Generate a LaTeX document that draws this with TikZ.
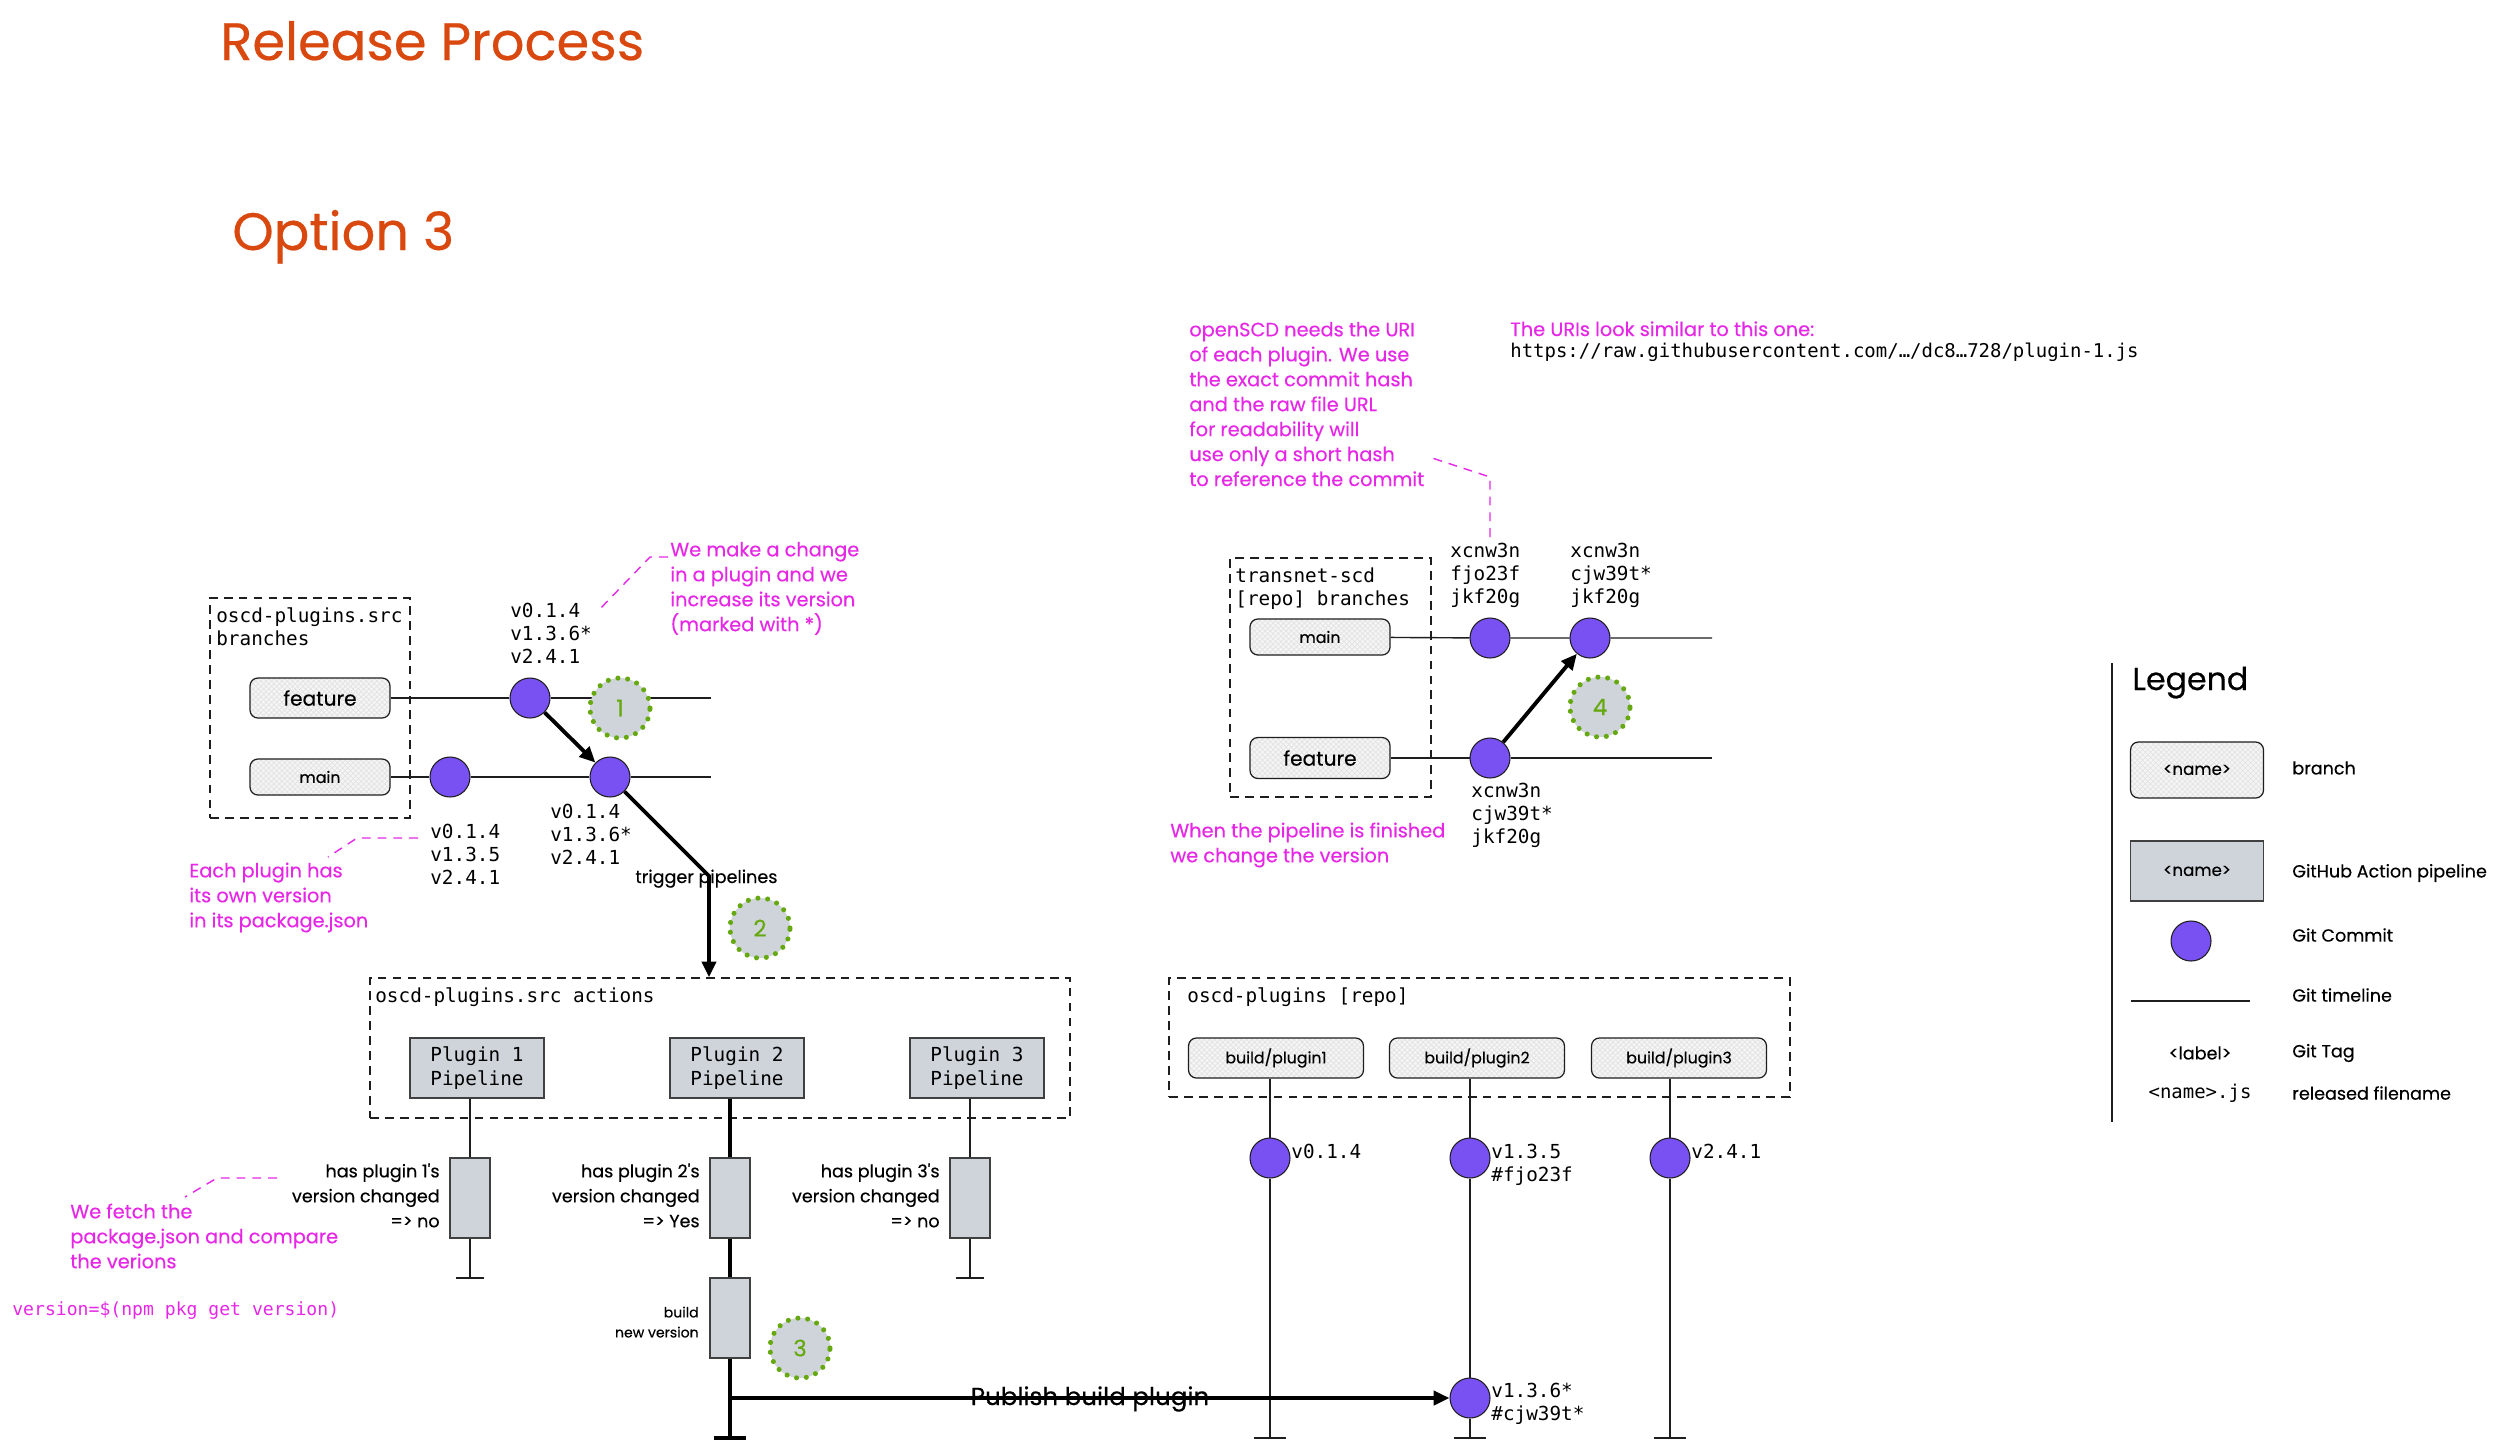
\documentclass[tikz,border=0pt]{standalone}
\usepackage{fontspec}
\usetikzlibrary{arrows.meta,patterns,calc}
\newfontfamily\hnd{Poppins}[FakeBold=0.35]
\newfontfamily\cde{DejaVu Sans Mono}
\newcommand\fsz[2]{\fontsize{#1}{#2}\selectfont}
\definecolor{ink}{HTML}{1E1E1E}
\definecolor{accent}{HTML}{D9480F}
\definecolor{mag}{HTML}{E628E6}
\definecolor{commitfill}{HTML}{7950F2}
\definecolor{boxgray}{HTML}{CED4DA}
\definecolor{stepgreen}{HTML}{66A80F}

\tikzset{
  title/.style={font=\hnd\fsz{30pt}{34pt}, text=accent, inner sep=0pt},
  groupbox/.style={draw=ink, line width=0.8pt, dash pattern=on 5pt off 3.5pt, inner sep=0pt},
  branchbox/.style={draw=ink, line width=0.7pt, rounded corners=4.5pt,
    minimum width=2.8cm, minimum height=0.76cm, inner sep=0pt,
    font=\hnd\fsz{11.5pt}{13pt},
    preaction={fill=black!4},
    preaction={pattern=north east lines, pattern color=black!11},
    pattern=north west lines, pattern color=black!11},
  pipebox/.style={draw=ink!85, fill=boxgray, line width=0.8pt, minimum width=2.68cm,
    minimum height=1.2cm, inner sep=0pt, align=center, font=\cde\fsz{11pt}{13.7pt}},
  chkbox/.style={draw=ink!85, fill=boxgray, line width=0.8pt, minimum width=0.8cm,
    minimum height=1.6cm, inner sep=0pt},
  commit/.style={circle, draw=ink, fill=commitfill, line width=0.6pt, minimum size=0.8cm, inner sep=0pt},
  stepmark/.style={circle, minimum size=1.2cm, inner sep=0pt, fill=boxgray, draw=stepgreen,
    line width=2.9pt, dash pattern=on 0pt off 5.6pt, line cap=round,
    text=stepgreen, font=\hnd\fsz{13pt}{15pt}},
  tagtext/.style={font=\cde\fsz{11pt}{13.1pt}, align=left, anchor=north west, inner sep=0pt},
  notetext/.style={font=\hnd\fsz{11pt}{14.2pt}, text=mag, align=left, anchor=north west, inner sep=0pt},
  chklabel/.style={font=\hnd\fsz{10pt}{14.2pt}, align=right, anchor=north east, inner sep=0pt},
  legtext/.style={font=\hnd\fsz{10pt}{12pt}, anchor=west, inner sep=0pt},
  timeline/.style={draw=ink, line width=0.8pt},
  heavyline/.style={draw=black, line width=2.2pt},
  bigarrow/.style={draw=black, line width=2.2pt, -{Triangle[length=9pt,width=8pt]}},
  leader/.style={draw=mag, line width=0.8pt, dash pattern=on 5pt off 4pt},
}

\begin{document}
\begin{tikzpicture}[x=0.02cm, y=-0.02cm]
\useasboundingbox (0,0) rectangle (2510,1448);
\fill[white] (0,0) rectangle (2510,1448);

% ---------- headings
\node[title, anchor=base west] (ttl) at (220,60) {Release Process};
\node[title, anchor=base west] (opt) at (232,250) {Option 3};

% ---------- oscd-plugins.src branches
\node[groupbox, minimum width=4cm, minimum height=4.4cm] (srcbr) at (310,708) {};
\node[tagtext] (srcbrlbl) at (216,606) {\strut oscd-plugins.src\\branches};
\node[branchbox, minimum height=0.8cm] (featL) at (320,698) {feature};
\node[branchbox, font=\hnd\fsz{9pt}{11pt}, minimum height=0.72cm] (mainL) at (320,777) {main};
\node[commit] (cA) at (530,698) {};
\node[commit] (cB) at (450,777) {};
\node[commit] (cC) at (610,777) {};
\coordinate (featLend) at (711,698);
\coordinate (mainLend) at (711,777);
\draw[timeline] (featL) -- (cA) -- (featLend);
\draw[timeline] (mainL) -- (cB) -- (cC) -- (mainLend);
\draw[bigarrow] (cA) -- (cC);

\node[tagtext] (tagA) at (510,601) {\strut v0.1.4\\v1.3.6*\\v2.4.1};
\node[tagtext] (tagC) at (550,802) {\strut v0.1.4\\v1.3.6*\\v2.4.1};
\node[tagtext] (tagB) at (430,822) {\strut v0.1.4\\v1.3.5\\v2.4.1};

\node[notetext] (noteA) at (670,538.5) {\strut We make a change\\in a plugin and we\\increase its version\\(marked with *)};
\coordinate (ldA1) at (668,557);
\coordinate (ldA2) at (650,557);
\coordinate (ldA3) at (597,612);
\draw[leader] (ldA1) -- (ldA2) -- (ldA3);

\node[notetext] (noteB) at (189,859.5) {\strut Each plugin has\\its own version\\in its package.json};
\coordinate (ldB1) at (418,838);
\coordinate (ldB2) at (357,838);
\coordinate (ldB3) at (328,857);
\draw[leader] (ldB1) -- (ldB2) -- (ldB3);

\node[stepmark] (s1) at (620,708) {1};

% ---------- oscd-plugins.src actions
\node[groupbox, minimum width=14cm, minimum height=2.8cm] (actions) at (720,1048) {};
\node[tagtext] (actionslbl) at (375,986) {\strut oscd-plugins.src actions};
\node[pipebox] (p1) at (477,1068) {Plugin 1\\Pipeline};
\node[pipebox] (p2) at (737,1068) {Plugin 2\\Pipeline};
\node[pipebox] (p3) at (977,1068) {Plugin 3\\Pipeline};

\coordinate (trigbend) at (709,876);
\draw[bigarrow] (cC) -- (trigbend) -- (trigbend |- actions.north);
\node[font=\hnd\fsz{10pt}{12pt}, anchor=base west, inner sep=0pt] (trig) at (635,883) {trigger pipelines};
\node[stepmark] (s2) at (760,928) {2};

\node[chkbox] (chk1) at (470,1198) {};
\node[chkbox] (chk2) at (730,1198) {};
\node[chkbox] (chk3) at (970,1198) {};
\node[chkbox] (bld) at (730,1318) {};
\coordinate (end1) at (470,1278);
\coordinate (end2) at (730,1438);
\coordinate (end3) at (970,1278);

\draw[timeline] (chk1 |- p1.south) -- (chk1) -- (end1);
\draw[timeline] (chk3 |- p3.south) -- (chk3) -- (end3);
\draw[heavyline] (chk2 |- p2.south) -- (chk2) -- (bld) -- (end2);
\draw[timeline] ($(end1)+(-14,0)$) -- ($(end1)+(14,0)$);
\draw[timeline] ($(end3)+(-14,0)$) -- ($(end3)+(14,0)$);
\draw[heavyline] ($(end2)+(-16,0)$) -- ($(end2)+(16,0)$);

\node[chklabel] (chk1lbl) at (440,1159.5) {\strut has plugin 1's\\version changed\\=> no};
\node[chklabel] (chk2lbl) at (700,1159.5) {\strut has plugin 2's\\version changed\\=> Yes};
\node[chklabel] (chk3lbl) at (940,1159.5) {\strut has plugin 3's\\version changed\\=> no};
\node[chklabel, font=\hnd\fsz{8pt}{11.4pt}] (bldlbl) at (699,1303) {\strut build\\new version};
\node[stepmark] (s3) at (800,1348) {3};

\node[notetext] (noteC) at (70,1200.5) {\strut We fetch the\\package.json and compare\\the verions};
\coordinate (ldC1) at (277,1178);
\coordinate (ldC2) at (217,1178);
\coordinate (ldC3) at (185,1197);
\draw[leader] (ldC1) -- (ldC2) -- (ldC3);
\node[font=\cde\fsz{10.3pt}{12pt}, text=mag, anchor=base west, inner sep=0pt] (npmcmd) at (12,1315) {version=\$(npm pkg get version)};

% ---------- oscd-plugins [repo]
\node[groupbox, minimum width=12.42cm, minimum height=2.38cm] (repo) at (1479.5,1037.5) {};
\node[tagtext] (repolbl) at (1187,986) {\strut oscd-plugins [repo]};
\node[branchbox, minimum width=3.5cm, minimum height=0.8cm, font=\hnd\fsz{9pt}{11pt}] (bp1) at (1276,1058) {build/plugin1};
\node[branchbox, minimum width=3.5cm, minimum height=0.8cm, font=\hnd\fsz{9pt}{11pt}] (bp2) at (1477,1058) {build/plugin2};
\node[branchbox, minimum width=3.5cm, minimum height=0.8cm, font=\hnd\fsz{9pt}{11pt}] (bp3) at (1679,1058) {build/plugin3};
\node[commit] (r1) at (1270,1158) {};
\node[commit] (r2) at (1470,1158) {};
\node[commit] (r3) at (1670,1158) {};
\node[commit] (c6) at (1470,1398) {};
\coordinate (e1) at (1270,1438);
\coordinate (e2) at (1470,1438);
\coordinate (e3) at (1670,1438);
\draw[timeline] (r1 |- bp1.south) -- (r1) -- (e1);
\draw[timeline] (r2 |- bp2.south) -- (r2) -- (c6) -- (e2);
\draw[timeline] (r3 |- bp3.south) -- (r3) -- (e3);
\draw[timeline] ($(e1)+(-16,0)$) -- ($(e1)+(16,0)$);
\draw[timeline] ($(e2)+(-16,0)$) -- ($(e2)+(16,0)$);
\draw[timeline] ($(e3)+(-16,0)$) -- ($(e3)+(16,0)$);
\node[tagtext] (r1tag) at (1291,1142) {\strut v0.1.4};
\node[tagtext] (r2tag) at (1491,1142) {\strut v1.3.5\\\#fjo23f};
\node[tagtext] (r3tag) at (1691,1142) {\strut v2.4.1};
\node[tagtext] (c6tag) at (1491,1381) {\strut v1.3.6*\\\#cjw39t*};

\coordinate (pubsrc) at (730,1398);
\draw[bigarrow] (pubsrc) -- (c6);
\node[font=\hnd\fsz{14pt}{16pt}, anchor=base, inner sep=0pt] (pubtxt) at (1090,1405) {Publish build plugin};

% ---------- transnet-scd [repo] branches
\node[groupbox, minimum width=4.02cm, minimum height=4.78cm] (tnbr) at (1330.5,677.5) {};
\node[tagtext] (tnbrlbl) at (1235,566) {\strut transnet-scd\\{}[repo] branches};
\node[branchbox, font=\hnd\fsz{9pt}{11pt}, minimum height=0.72cm] (mainR) at (1320,637) {main};
\node[branchbox, minimum height=0.82cm] (featR) at (1320,758) {feature};
\node[commit] (t1) at (1490,638) {};
\node[commit] (t2) at (1590,638) {};
\node[commit] (t3) at (1490,758) {};
\coordinate (mainRend) at (1712,638);
\coordinate (featRend) at (1712,758);
\draw[timeline] (mainR) -- (t1) -- (t2) -- (mainRend);
\draw[timeline] (featR) -- (t3) -- (featRend);
\draw[bigarrow] (t3) -- (t2);
\node[stepmark] (s4) at (1600,707) {4};

\node[tagtext] (t1tag) at (1450,541) {\strut xcnw3n\\fjo23f\\jkf20g};
\node[tagtext] (t2tag) at (1570,541) {\strut xcnw3n\\cjw39t*\\jkf20g};
\node[tagtext] (t3tag) at (1471,781) {\strut xcnw3n\\cjw39t*\\jkf20g};

\node[notetext] (noteD) at (1189,318.5) {\strut openSCD needs the URI\\of each plugin. We use\\the exact commit hash\\and the raw file URL\\for readability will\\use only a short hash\\to reference the commit};
\coordinate (ldD1) at (1490,537);
\coordinate (ldD2) at (1490,477);
\coordinate (ldD3) at (1429,457);
\draw[leader] (ldD1) -- (ldD2) -- (ldD3);

\node[font=\hnd\fsz{11pt}{13pt}, text=mag, anchor=base west, inner sep=0pt] (urinote) at (1510,336) {The URIs look similar to this one:};
\node[font=\cde\fsz{10.8pt}{12pt}, anchor=base west, inner sep=0pt] (uri) at (1510,357) {https://raw.githubusercontent.com/…/dc8…728/plugin-1.js};

\node[notetext] (noteE) at (1170,819.5) {\strut When the pipeline is finished\\we change the version};

% ---------- legend
\draw[ink, line width=0.8pt] (2112,663) -- (2112,1122);
\node[font=\hnd\fsz{18pt}{20pt}, anchor=base west, inner sep=0pt] (leg) at (2132,690) {Legend};
\node[branchbox, minimum width=2.66cm, minimum height=1.12cm, font=\hnd\fsz{9.5pt}{11pt}] (lgbranch) at (2197,770) {<name>};
\node[legtext] (lgbranchtxt) at (2292,768) {branch};
\node[pipebox, minimum width=2.66cm, font=\hnd\fsz{9.5pt}{11pt}] (lgpipe) at (2197,871) {<name>};
\node[legtext] (lgpipetxt) at (2292,873) {GitHub Action pipeline};
\node[commit] (lgcommit) at (2191,941) {};
\node[legtext] (lgcommittxt) at (2292,935) {Git Commit};
\coordinate (lgtl1) at (2131,1001);
\coordinate (lgtl2) at (2250,1001);
\draw[timeline] (lgtl1) -- (lgtl2);
\node[legtext] (lgtltxt) at (2292,995) {Git timeline};
\node[font=\hnd\fsz{10pt}{12pt}, inner sep=0pt] (lgtag) at (2200,1053) {<label>};
\node[legtext] (lgtagtxt) at (2292,1053) {Git Tag};
\node[font=\cde\fsz{10.8pt}{12pt}, inner sep=0pt] (lgfile) at (2200,1093) {<name>.js};
\node[legtext] (lgfiletxt) at (2292,1093) {released filename};
\end{tikzpicture}
\end{document}
